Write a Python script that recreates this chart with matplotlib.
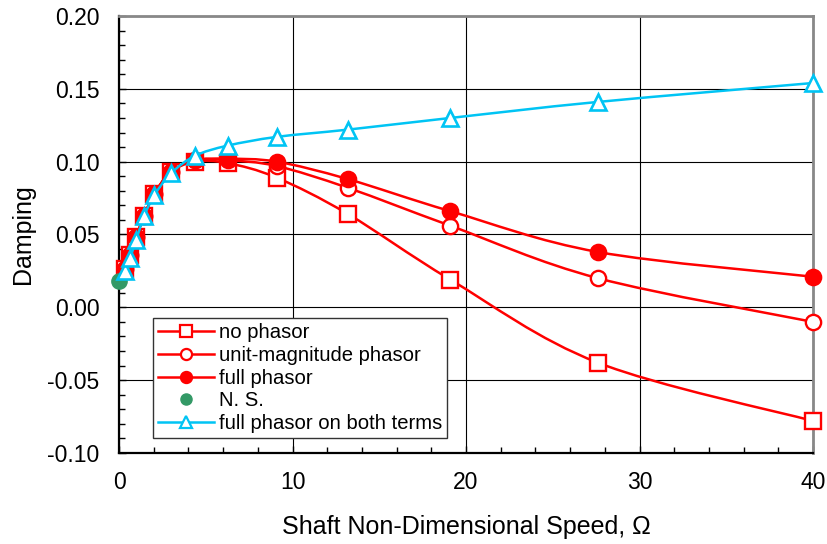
import numpy as np
import matplotlib
matplotlib.use("Agg")
import matplotlib.pyplot as plt
from matplotlib.path import Path
from matplotlib.patches import PathPatch
from matplotlib.lines import Line2D
from matplotlib.ticker import MultipleLocator, FormatStrFormatter

plt.rcParams['font.family'] = ['Liberation Sans', 'DejaVu Sans']

# Data
speed = [0.35, 0.64, 0.98, 1.46, 2.04, 3.0, 4.38, 6.26, 9.09, 13.2, 19.1, 27.6, 40.0]
no_phasor = [0.026, 0.036, 0.048, 0.063, 0.078, 0.093, 0.100, 0.099, 0.089, 0.064, 0.019, -0.038, -0.078]
unit_phasor = [0.026, 0.036, 0.048, 0.063, 0.078, 0.093, 0.101, 0.101, 0.097, 0.082, 0.056, 0.020, -0.010]
full_phasor = [0.026, 0.036, 0.048, 0.063, 0.078, 0.093, 0.101, 0.102, 0.100, 0.088, 0.066, 0.038, 0.021]
both_terms = [0.025, 0.034, 0.046, 0.063, 0.077, 0.092, 0.104, 0.111, 0.117, 0.122, 0.130, 0.141, 0.154]
ns_speed = [0.0]
ns_damping = [0.018]

RED = '#FF0000'
CYAN = '#00C4F4'
GREEN = '#339966'
LW = 1.8


# Smoothed line through the points (same style as spreadsheet "smoothed line")
def smooth_path(xs, ys):
    pts = np.column_stack([xs, ys])
    n = len(pts)
    verts = [pts[0]]
    codes = [Path.MOVETO]
    for i in range(n - 1):
        p0 = pts[i - 1] if i > 0 else pts[i]
        p1 = pts[i]
        p2 = pts[i + 1]
        p3 = pts[i + 2] if i + 2 < n else pts[i + 1]
        c1 = p1 + (p2 - p0) / 6.0
        c2 = p2 - (p3 - p1) / 6.0
        verts += [c1, c2, p2]
        codes += [Path.CURVE4] * 3
    return Path(verts, codes)


fig = plt.figure(figsize=(8.27, 5.44), dpi=100)
ax = fig.add_axes([0.1439, 0.1673, 0.8392, 0.8033])

series = [
    (no_phasor, 's', 'white', 'no phasor'),
    (unit_phasor, 'o', 'white', 'unit-magnitude phasor'),
    (full_phasor, 'o', RED, 'full phasor'),
]

handles = []
z = 3
for ys, mk, face, lab in series:
    ax.add_patch(PathPatch(smooth_path(speed, ys), fill=False, edgecolor=RED,
                           lw=LW, zorder=z, clip_on=False))
    ax.plot(speed, ys, ls='none', marker=mk, ms=11, mfc=face, mec=RED,
            mew=1.7, zorder=z + 0.5, clip_on=False)
    handles.append(Line2D([], [], color=RED, lw=LW, marker=mk, ms=8,
                          mfc=face, mec=RED, mew=1.6, label=lab))
    z += 1

ax.plot(ns_speed, ns_damping, ls='none', marker='o', ms=11, mfc=GREEN,
        mec=GREEN, zorder=z, clip_on=False)
handles.append(Line2D([], [], ls='none', marker='o', ms=8, mfc=GREEN,
                      mec=GREEN, label='N. S.'))
z += 1

ax.add_patch(PathPatch(smooth_path(speed, both_terms), fill=False, edgecolor=CYAN,
                       lw=LW, zorder=z, clip_on=False))
ax.plot(speed, both_terms, ls='none', marker='^', ms=12, mfc='white', mec=CYAN,
        mew=1.9, zorder=z + 0.5, clip_on=False)
handles.append(Line2D([], [], color=CYAN, lw=LW, marker='^', ms=9,
                      mfc='white', mec=CYAN, mew=1.6,
                      label='full phasor on both terms'))

ax.set_xlim(0, 40)
ax.set_ylim(-0.10, 0.20)
ax.xaxis.set_major_locator(MultipleLocator(10))
ax.xaxis.set_minor_locator(MultipleLocator(2))
ax.yaxis.set_major_locator(MultipleLocator(0.05))
ax.yaxis.set_minor_locator(MultipleLocator(0.01))
ax.yaxis.set_major_formatter(FormatStrFormatter('%.2f'))
ax.grid(True, which='major', color='black', lw=0.8)
ax.set_axisbelow(True)

ax.tick_params(which='both', direction='in', top=False, right=False,
               color='black', labelsize=16.5)
ax.tick_params(which='major', length=5, width=1)
ax.tick_params(which='minor', length=4.5, width=1)
ax.tick_params(axis='y', pad=14)
ax.tick_params(axis='x', pad=13)

for side in ['left', 'bottom']:
    ax.spines[side].set_color('black')
    ax.spines[side].set_linewidth(1.6)
for side in ['top', 'right']:
    ax.spines[side].set_color('#888888')
    ax.spines[side].set_linewidth(2)

ax.set_xlabel('Shaft Non-Dimensional Speed, \u03a9', fontsize=18, labelpad=15)
ax.set_ylabel('Damping', fontsize=18, labelpad=9)

leg = ax.legend(handles=handles, loc='lower left',
                bbox_to_anchor=(0.049, 0.034), fontsize=14.6,
                frameon=True, fancybox=False, framealpha=1,
                edgecolor='#333333', handlelength=2.75, handletextpad=0.25,
                labelspacing=0.18, borderpad=0.25, borderaxespad=0)
leg.get_frame().set_linewidth(1.0)
leg.set_zorder(10)

fig.savefig('out.png', dpi=100)
